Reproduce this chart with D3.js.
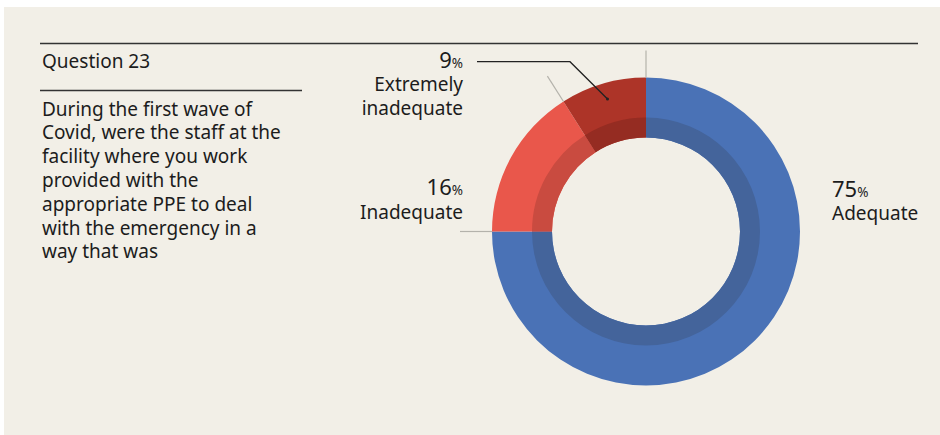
<!DOCTYPE html>
<html>
<head>
<meta charset="utf-8">
<script src="https://cdn.jsdelivr.net/npm/d3@7"></script>
<style>
  html, body { margin: 0; padding: 0; background: #ffffff; }
  svg { display: block; font-family: "Noto Sans", "Open Sans", sans-serif; }
</style>
</head>
<body>
<svg id="chart" width="940" height="435"></svg>
<script>
// data
var categories = ["Adequate", "Inadequate", "Extremely inadequate"];
var values = [75, 16, 9];
var labelLines = [["Adequate"], ["Inadequate"], ["Extremely", "inadequate"]];
var questionTitle = "Question 23";
var questionLines = [
  "During the first wave of",
  "Covid, were the staff at the",
  "facility where you work",
  "provided with the",
  "appropriate PPE to deal",
  "with the emergency in a",
  "way that was"
];

var colors = ["#4a72b6", "#e9574b", "#ad3428"];
var bandColors = ["#44649b", "#c94b40", "#952c22"];
var textCol = "#1c1c1c";

var svg = d3.select("#chart");

// panel
svg.append("rect")
    .attr("x", 4).attr("y", 7)
    .attr("width", 936).attr("height", 428)
    .attr("fill", "#f2efe7");

// rules
svg.append("line")
    .attr("x1", 40).attr("x2", 918).attr("y1", 43.5).attr("y2", 43.5)
    .attr("stroke", "#333").attr("stroke-width", 1.6);
svg.append("line")
    .attr("x1", 40).attr("x2", 302).attr("y1", 90.5).attr("y2", 90.5)
    .attr("stroke", "#333").attr("stroke-width", 1.4);

svg.append("text")
    .attr("x", 42).attr("y", 68)
    .attr("font-size", 19)
    .attr("fill", textCol)
    .text(questionTitle);

svg.append("g").selectAll("text")
  .data(questionLines)
  .enter().append("text")
    .attr("x", 42)
    .attr("y", function(d, i) { return 115.5 + i * 23.8; })
    .attr("font-size", 19)
    .attr("fill", textCol)
    .text(function(d) { return d; });

// donut
var cx = 646, cy = 231.5,
    rOuter = 154, rBand = 114, rInner = 94;

var g = svg.append("g")
    .attr("transform", "translate(" + cx + "," + cy + ")");

var pie = d3.pie().sort(null).value(function(d) { return d; });
var arcs = pie(values);

var outerArc = d3.arc().innerRadius(rInner).outerRadius(rOuter);
var bandArc = d3.arc().innerRadius(rInner).outerRadius(rBand);

g.selectAll(".slice")
  .data(arcs)
  .enter().append("path")
    .attr("class", "slice")
    .attr("d", outerArc)
    .attr("fill", function(d, i) { return colors[i]; });

g.selectAll(".band")
  .data(arcs)
  .enter().append("path")
    .attr("class", "band")
    .attr("d", bandArc)
    .attr("fill", function(d, i) { return bandColors[i]; });

// gray ticks at slice boundaries
var tickLen = [27, 32, 30];
function polar(a, r) { return [Math.sin(a) * r, -Math.cos(a) * r]; }

g.selectAll(".tick")
  .data(arcs)
  .enter().append("line")
    .attr("class", "tick")
    .attr("x1", function(d) { return polar(d.startAngle, rOuter)[0]; })
    .attr("y1", function(d) { return polar(d.startAngle, rOuter)[1]; })
    .attr("x2", function(d, i) { return polar(d.startAngle, rOuter + tickLen[i])[0]; })
    .attr("y2", function(d, i) { return polar(d.startAngle, rOuter + tickLen[i])[1]; })
    .attr("stroke", "#b4b2ab")
    .attr("stroke-width", 1.2);

// leader for the small slice
var small = arcs[2];
var mid = (small.startAngle + small.endAngle) / 2;
var tip = polar(mid, 138);
g.append("polyline")
    .attr("points", [[477 - cx, 61.7 - cy], [570 - cx, 61.7 - cy], tip].map(function(p) { return p.join(","); }).join(" "))
    .attr("fill", "none")
    .attr("stroke", "#222")
    .attr("stroke-width", 1.3);
g.append("circle")
    .attr("cx", tip[0]).attr("cy", tip[1]).attr("r", 1.5)
    .attr("fill", "#222");

// labels
var labelPos = [
  {x: 832, y: 196.5, anchor: "start"},
  {x: 463, y: 195, anchor: "end"},
  {x: 463, y: 67.5, anchor: "end"}
];

var labels = svg.append("g").selectAll("g")
  .data(arcs)
  .enter().append("g")
    .attr("transform", function(d, i) { return "translate(" + labelPos[i].x + "," + labelPos[i].y + ")"; })
    .attr("text-anchor", function(d, i) { return labelPos[i].anchor; })
    .attr("fill", textCol);

var pct = labels.append("text")
    .attr("font-size", 22);
pct.append("tspan").text(function(d) { return d.data; });
pct.append("tspan").attr("font-size", 13.5).text("%");

labels.each(function(d, i) {
  d3.select(this).selectAll(".cat")
    .data(labelLines[i])
    .enter().append("text")
      .attr("class", "cat")
      .attr("y", function(t, j) { return 23.5 + j * 23.5; })
      .attr("font-size", 19)
      .text(function(t) { return t; });
});
</script>
</body>
</html>
